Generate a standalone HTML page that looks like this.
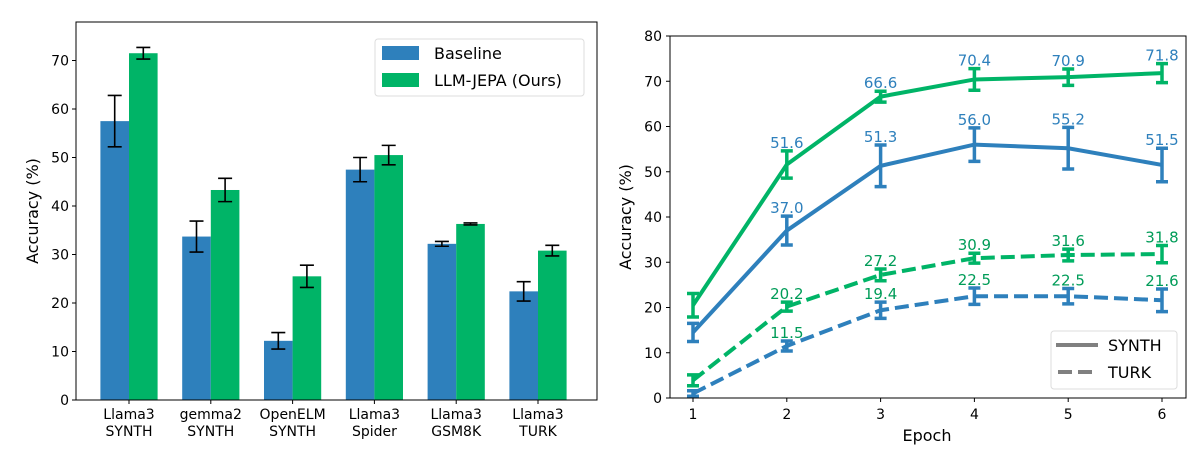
<!DOCTYPE html>
<html><head><meta charset="utf-8"><style>
body{margin:0;background:#fff;}
svg{display:block;font-family:"DejaVu Sans","Liberation Sans",sans-serif;}
</style></head><body>
<svg id="s" width="1204" height="454" xmlns="http://www.w3.org/2000/svg"></svg>
<script>
const categories=["Llama3\nSYNTH","gemma2\nSYNTH","OpenELM\nSYNTH","Llama3\nSpider","Llama3\nGSM8K","Llama3\nTURK"];
const baseline=[57.5,33.7,12.2,47.5,32.2,22.4];
const baselineErr=[5.3,3.2,1.7,2.5,0.5,2.0];
const jepa=[71.5,43.3,25.5,50.5,36.3,30.8];
const jepaErr=[1.2,2.4,2.3,2.0,0.2,1.1];
const leftTicks=[0,10,20,30,40,50,60,70];
const epochs=[1,2,3,4,5,6];
const jSynth=[20.5,51.6,66.6,70.4,70.9,71.8];
const jSynthErr=[2.6,3.0,1.2,2.4,1.8,2.1];
const bSynth=[14.5,37.0,51.3,56.0,55.2,51.5];
const bSynthErr=[2.0,3.2,4.6,3.7,4.6,3.7];
const jTurk=[3.9,20.2,27.2,30.9,31.6,31.8];
const jTurkErr=[1.2,1.0,1.3,1.1,1.3,1.9];
const bTurk=[1.0,11.5,19.4,22.5,22.5,21.6];
const bTurkErr=[0.6,1.1,1.8,1.8,1.7,2.5];
const rightTicks=[0,10,20,30,40,50,60,70,80];

const BLUE="#2e80bc",GREEN="#00b467",GREENT="#009c58";
const s=document.getElementById('s');
function el(tag,attrs,parent){const e=document.createElementNS("http://www.w3.org/2000/svg",tag);for(const k in attrs)e.setAttribute(k,attrs[k]);(parent||s).appendChild(e);return e;}

// LEFT chart
const L={x0:76,x1:597,y0:400,ppu:4.85};
const lx=i=>129+i*81.8, ly=v=>L.y0-v*L.ppu;
const gL=el('g',{});


const bw=28.6;
categories.forEach((c,i)=>{
  [[baseline,baselineErr,BLUE,-1,'baseline'],[jepa,jepaErr,GREEN,0,'jepa']].forEach(([vals,errs,col,off,nm])=>{
    const x=lx(i)+off*bw;
    const r=el('rect',{x:x,y:ly(vals[i]),width:bw,height:ly(0)-ly(vals[i]),fill:col},gL);
    
    
    const cx=x+bw/2,t=ly(vals[i]+errs[i]),b=ly(vals[i]-errs[i]);
    const eb=el('path',{d:`M${cx},${t}V${b}M${cx-7},${t}H${cx+7}M${cx-7},${b}H${cx+7}`,stroke:'#000','stroke-width':1.6,fill:'none'},gL);
    
    
  });
  el('line',{x1:lx(i),x2:lx(i),y1:400,y2:404,stroke:'#000'},gL);
  const parts=c.split("\n");
  parts.forEach((p,k)=>{const t=el('text',{x:lx(i),y:419+k*17,'font-size':14,'text-anchor':'middle'},gL);t.textContent=p;
  });
});
leftTicks.forEach(v=>{el('line',{x1:72,x2:76,y1:ly(v),y2:ly(v),stroke:'#000'},gL);
  const t=el('text',{x:69,y:ly(v)+5,'font-size':14,'text-anchor':'end'},gL);t.textContent=v;
  });
el('rect',{x:76,y:22,width:521,height:378,fill:'none',stroke:'#000','stroke-width':1},gL);
let yt=el('text',{x:0,y:0,'font-size':16,'text-anchor':'middle',transform:'translate(38,211) rotate(-90)'},gL);yt.textContent="Accuracy (%)";

const lg=el('g',{},gL);


el('rect',{x:375,y:39,width:209,height:57,rx:3,fill:'#fff',stroke:'#ddd'},lg);
el('rect',{x:382,y:46,width:37,height:14,fill:BLUE},lg);
el('rect',{x:382,y:73,width:37,height:14,fill:GREEN},lg);
let t1=el('text',{x:434,y:59,'font-size':16},lg);t1.textContent="Baseline";

let t2=el('text',{x:434,y:86,'font-size':16},lg);t2.textContent="LLM-JEPA (Ours)";


// RIGHT chart
const rx=e=>693+(e-1)*93.8, ry=v=>398-v*4.525;
const gR=el('g',{});


const series=[[jTurk,jTurkErr,GREEN,true,GREENT,'jepa-turk'],[bTurk,bTurkErr,BLUE,true,GREENT,'baseline-turk'],[bSynth,bSynthErr,BLUE,false,BLUE,'baseline-synth'],[jSynth,jSynthErr,GREEN,false,BLUE,'jepa-synth']];
series.forEach(([vals,errs,col,dash,lc,nm])=>{
  const d=vals.map((v,i)=>(i?'L':'M')+rx(epochs[i])+','+ry(v)).join('');
  const p=el('path',{d:d,stroke:col,'stroke-width':4,fill:'none','stroke-dasharray':dash?'14,6':'none'},gR);
  
  
  vals.forEach((v,i)=>{
    const cx=rx(epochs[i]),t=ry(v+errs[i]),b=ry(v-errs[i]);
    const eb=el('path',{d:`M${cx},${t}V${b}M${cx-6},${t}H${cx+6}M${cx-6},${b}H${cx+6}`,stroke:col,'stroke-width':3.5,fill:'none'},gR);
    
    
    if(i>0){const tx=el('text',{x:cx,y:t-3,'font-size':15,'text-anchor':'middle',fill:lc},gR);tx.textContent=v.toFixed(1);
      }
  });
});
epochs.forEach(e=>{el('line',{x1:rx(e),x2:rx(e),y1:398,y2:402,stroke:'#000'},gR);
  const t=el('text',{x:rx(e),y:419,'font-size':14,'text-anchor':'middle'},gR);t.textContent=e;
  });
rightTicks.forEach(v=>{el('line',{x1:666,x2:670,y1:ry(v),y2:ry(v),stroke:'#000'},gR);
  const t=el('text',{x:662,y:ry(v)+5,'font-size':14,'text-anchor':'end'},gR);t.textContent=v;
  });
el('rect',{x:670,y:36,width:516,height:362,fill:'none',stroke:'#000','stroke-width':1},gR);
let yt2=el('text',{x:0,y:0,'font-size':16,'text-anchor':'middle',transform:'translate(631,217) rotate(-90)'},gR);yt2.textContent="Accuracy (%)";

let xt=el('text',{x:927,y:441,'font-size':16,'text-anchor':'middle'},gR);xt.textContent="Epoch";

const lg2=el('g',{},gR);


el('rect',{x:1051,y:331,width:126,height:58,rx:3,fill:'#fff',stroke:'#ddd'},lg2);
el('line',{x1:1056,x2:1098,y1:345,y2:345,stroke:'#808080','stroke-width':4},lg2);
el('line',{x1:1058,x2:1096,y1:372,y2:372,stroke:'#808080','stroke-width':4,'stroke-dasharray':'14,6'},lg2);
let a=el('text',{x:1108,y:351,'font-size':16},lg2);a.textContent="SYNTH";

let b=el('text',{x:1108,y:378,'font-size':16},lg2);b.textContent="TURK";

</script>
</body></html>
